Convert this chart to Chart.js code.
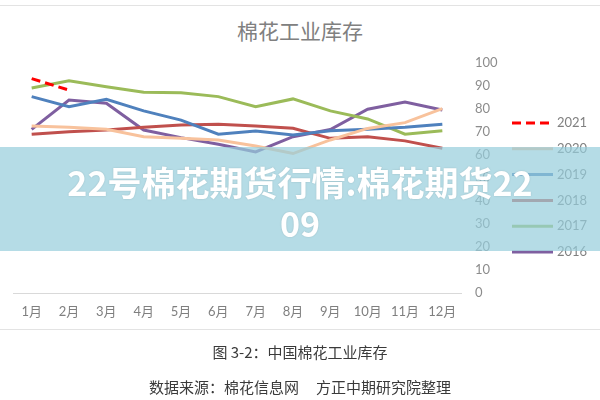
<!DOCTYPE html>
<html>
<head>
<meta charset="utf-8">
<script src="https://cdn.jsdelivr.net/npm/chart.js@4.4.1/dist/chart.umd.min.js"></script>
<style>
    body { margin: 0; background: #fff; }
    #wrap { position: relative; width: 600px; height: 400px; overflow: hidden; background: #fff; }
    #chart { position: absolute; left: 0; top: 0; }
    .rule { position: absolute; left: 0; width: 600px; height: 1px; background: #e3e3e3; }
    .txt { position: absolute; left: 0; width: 600px; text-align: center; font-family: "Noto Sans CJK SC", sans-serif; }
    #title { top: 18px; line-height: 24px; font-size: 21px; color: #808080; }
    #cap1 { top: 342px; line-height: 20px; font-size: 15px; color: #3a3a3a; }
    #cap2 { top: 377px; line-height: 20px; font-size: 15px; color: #3a3a3a; }
    #banner {
        position: absolute; left: 0; top: 147px; width: 600px; height: 104px;
        background: rgba(150, 205, 220, 0.7);
        box-sizing: border-box; padding-top: 14px;
        text-align: center; color: #fff; font-weight: bold;
        font-family: "Noto Sans CJK SC", sans-serif; font-size: 34px; line-height: 41px;
        text-shadow: 0 0 2px rgba(0, 0, 0, 0.15);
    }
</style>
</head>
<body>
<div id="wrap">
    <div class="rule" style="top:5px"></div>
    <div id="title" class="txt">棉花工业库存</div>
    <canvas id="chart" width="600" height="400"></canvas>
    <div class="rule" style="top:329px"></div>
    <div id="cap1" class="txt">图 3-2：中国棉花工业库存</div>
    <div id="cap2" class="txt">数据来源：棉花信息网&nbsp;&nbsp;&nbsp;&nbsp;&nbsp;方正中期研究院整理</div>
    <div id="banner">22号棉花期货行情:棉花期货22<br>09</div>
</div>
<script>
// values (库存, 天)
const months = ['1月', '2月', '3月', '4月', '5月', '6月', '7月', '8月', '9月', '10月', '11月', '12月'];
const yearLabels = ['2021', '2020', '2019', '2018', '2017', '2016'];
const y2021 = [93, 88, null, null, null, null, null, null, null, null, null, null];
const y2020 = [72.4, 71.9, 71, 67.8, 67.1, 66.4, 63.8, 60.5, 66.4, 71.4, 73.9, 80];
const y2019 = [85.2, 80.8, 84, 79, 75, 68.9, 70.3, 68.5, 70.4, 71, 71.9, 73.2];
const y2018 = [68.9, 70, 70.7, 71.9, 72.9, 73.2, 72.5, 71.5, 67.1, 67.8, 66, 62.8];
const y2017 = [88.9, 92.1, 89.5, 87.1, 86.9, 85.2, 80.8, 84.2, 79, 75.5, 68.9, 70.4];
const y2016 = [71, 83.7, 82.3, 70.7, 67.4, 64.5, 61.2, 67.8, 70.9, 79.7, 82.9, 79.4];
const yTicks = [0, 10, 20, 30, 40, 50, 60, 70, 80, 90, 100];

const colors = ['#ff0000', '#f8c29c', '#4f81bd', '#c0504d', '#9bbb59', '#7f5fa0'];
const series = [y2021, y2020, y2019, y2018, y2017, y2016];

const datasets = series.map(function (s, i) {
    return {
        label: yearLabels[i],
        data: s,
        borderColor: colors[i],
        backgroundColor: colors[i],
        borderWidth: 3,
        borderDash: i === 0 ? [9, 5] : [],
        pointRadius: 0,
        tension: 0,
        fill: false
    };
});

// legend drawn at the right of the axis, like the original
const sideLegend = {
    id: 'sideLegend',
    afterDraw: function (chart) {
        const ctx = chart.ctx;
        ctx.save();
        chart.data.datasets.forEach(function (ds, i) {
            const y = 123 + i * 25.8;
            ctx.beginPath();
            ctx.strokeStyle = ds.borderColor;
            ctx.lineWidth = 3;
            ctx.setLineDash(ds.borderDash || []);
            ctx.moveTo(512, y);
            ctx.lineTo(553, y);
            ctx.stroke();
            ctx.setLineDash([]);
            ctx.fillStyle = '#808080';
            ctx.font = '13px Lato, "Noto Sans CJK SC", sans-serif';
            ctx.textBaseline = 'middle';
            ctx.textAlign = 'left';
            ctx.fillText(ds.label, 557, y);
        });
        ctx.restore();
    }
};

new Chart(document.getElementById('chart'), {
    type: 'line',
    data: {
        labels: months,
        datasets: datasets
    },
    options: {
        responsive: false,
        animation: false,
        devicePixelRatio: 1,
        layout: {
            padding: { left: 13, top: 62.5, right: 0, bottom: 77 }
        },
        plugins: {
            legend: { display: false },
            tooltip: { enabled: false }
        },
        scales: {
            x: {
                offset: true,
                grid: { display: false, drawTicks: false },
                border: { color: '#d9d9d9', width: 1 },
                ticks: {
                    color: '#7f7f7f',
                    padding: 11,
                    maxRotation: 0,
                    autoSkip: false,
                    font: { size: 13, family: 'Lato, "Noto Sans CJK SC", sans-serif' }
                },
                afterFit: function (s) { s.height = 30; }
            },
            y: {
                position: 'right',
                min: 0,
                max: 100,
                afterBuildTicks: function (s) { s.ticks = yTicks.map(function (v) { return { value: v }; }); },
                grid: { display: false, drawTicks: false },
                border: { display: false },
                ticks: {
                    color: '#8c8c8c',
                    padding: 14,
                    font: { size: 13, family: 'Lato, sans-serif' }
                },
                afterFit: function (s) { s.width = 139; }
            }
        }
    },
    plugins: [sideLegend]
});
</script>
</body>
</html>
